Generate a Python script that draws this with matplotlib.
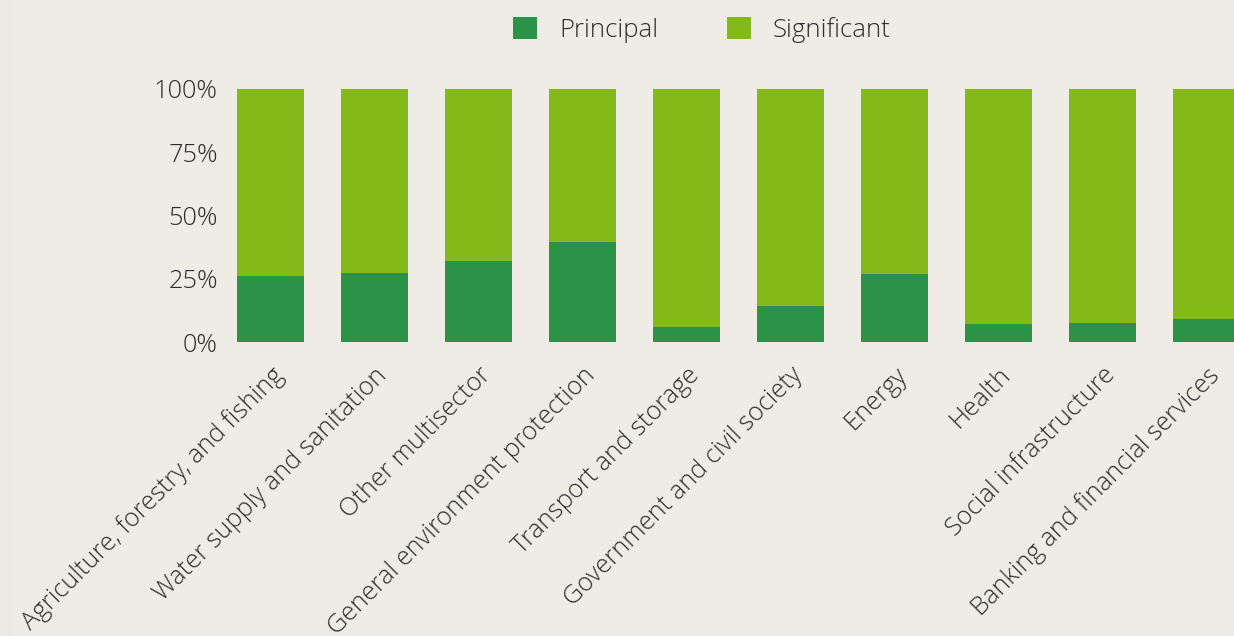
import matplotlib
matplotlib.use("Agg")
import matplotlib.pyplot as plt
from matplotlib.patches import Rectangle
from matplotlib.ticker import FixedLocator, PercentFormatter

categories = [
    "Agriculture, forestry, and fishing",
    "Water supply and sanitation",
    "Other multisector",
    "General environment protection",
    "Transport and storage",
    "Government and civil society",
    "Energy",
    "Health",
    "Social infrastructure",
    "Banking and financial services",
]
principal = [26.0, 27.3, 32.0, 39.5, 5.8, 14.1, 26.9, 7.0, 7.4, 9.1]
significant = [100 - p for p in principal]
yticks = [0, 25, 50, 75, 100]

BG = "#efebe5"
STRIP = "#ebeae2"
C_PRIN = "#2b9348"
C_SIG = "#84b91a"
TXT = "#2e2e2e"

plt.rcParams["font.family"] = ["Open Sans", "DejaVu Sans"]

W, H = 1234, 636
fig = plt.figure(figsize=(W / 100, H / 100), dpi=100, facecolor=BG)
fig.patches.append(Rectangle((0, 0), 13 / W, 1, transform=fig.transFigure,
                             facecolor=STRIP, edgecolor="none", zorder=0))

L, R = 222, 1234
y0, y100 = 342, 89
ax = fig.add_axes([L / W, (H - y0) / H, (R - L) / W, (y0 - y100) / H])
ax.set_facecolor(BG)

x = list(range(len(categories)))
width = 67 / 104
ax.bar(x, principal, width=width, color=C_PRIN, label="Principal", clip_on=False, zorder=2)
ax.bar(x, significant, bottom=principal, width=width, color=C_SIG, label="Significant",
       clip_on=False, zorder=2)

ax.set_xlim((L - 270.5) / 104, (R - 270.5) / 104)
ax.set_ylim(0, 100)
ax.yaxis.set_major_locator(FixedLocator(yticks))
ax.yaxis.set_major_formatter(PercentFormatter(decimals=0))
for s in ax.spines.values():
    s.set_visible(False)
ax.tick_params(axis="y", length=0, pad=3, labelsize=18.3, labelcolor=TXT)
ax.tick_params(axis="x", length=0, pad=15, labelsize=18.3, labelcolor=TXT)
ax.set_xticks(x)
ax.set_xticklabels(categories, rotation=45, ha="right", va="top", rotation_mode="anchor")
for lab in ax.get_yticklabels():
    lab.set_va("center_baseline")
for lab in ax.get_xticklabels() + ax.get_yticklabels():
    lab.set_fontweight("light")

leg = fig.legend(loc="center", bbox_to_anchor=(702 / W, 1 - 30 / H), ncol=2, frameon=False,
                 fontsize=18.5, handlelength=0.94, handleheight=0.94, handletextpad=0.86,
                 columnspacing=2.65, labelcolor=TXT)
for t in leg.get_texts():
    t.set_fontweight("light")

fig.savefig("out.png", dpi=100, facecolor=BG)
